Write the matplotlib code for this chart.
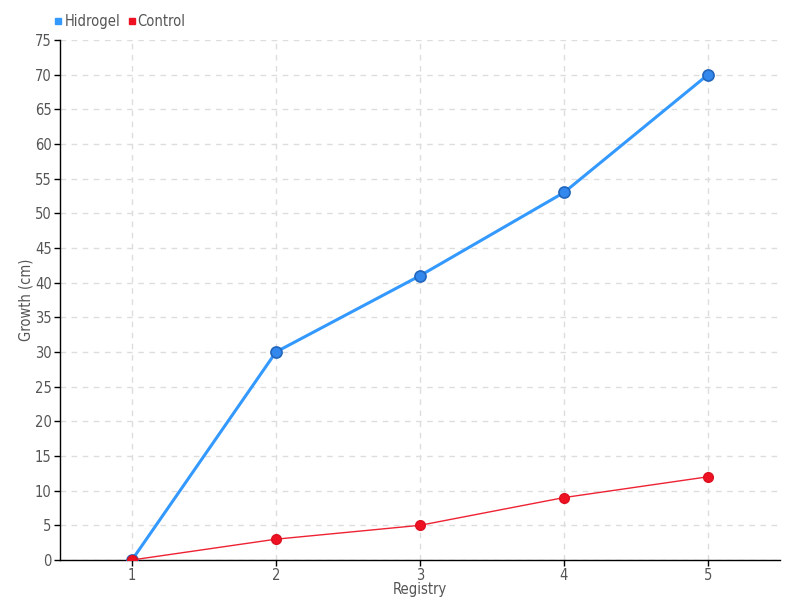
import matplotlib
matplotlib.use("Agg")
import matplotlib.pyplot as plt
from matplotlib.lines import Line2D

registry = [1, 2, 3, 4, 5]
hidrogel = [0, 30, 41, 53, 70]
control = [0, 3, 5, 9, 12]
yticks = list(range(0, 80, 5))

plt.rcParams['font.family'] = ['DejaVu Sans']
plt.rcParams['font.stretch'] = 'condensed'
fig = plt.figure(figsize=(8, 6), dpi=100)
ax = fig.add_axes([0.075, 0.0667, 0.9, 0.8667])

ax.plot(registry, hidrogel, color='#3399ff', lw=2.2, marker='o', ms=8,
        mfc='#3388ee', mec='#2266bb', mew=1.2, zorder=3)
ax.plot(registry, control, color='#ee2233', lw=1, marker='o', ms=7,
        mfc='#ee1122', mec='#dd1122', zorder=4)

ax.set_xlim(0.5, 5.5)
ax.set_ylim(0, 75)
ax.set_xticks(registry)
ax.set_yticks(yticks)
ax.grid(True, color='#dddddd', ls=(0, (4, 4)), lw=1)
ax.set_axisbelow(True)
for s in ['top', 'right']:
    ax.spines[s].set_visible(False)
for s in ['left', 'bottom']:
    ax.spines[s].set_color('black')
    ax.spines[s].set_linewidth(1)
ax.tick_params(colors='#555555', labelsize=10.5, length=4, width=1, pad=2)
ax.tick_params(axis='both', color='black')
ax.set_xlabel('Registry', color='#555555', fontsize=10.5, labelpad=-1)
ax.set_ylabel('Growth (cm)', color='#555555', fontsize=10.5, labelpad=1)

handles = [Line2D([], [], marker='s', ls='', color='#3399ff', ms=4.5),
           Line2D([], [], marker='s', ls='', color='#ee1122', ms=4.5)]
fig.legend(handles, ['Hidrogel', 'Control'], loc='upper left',
           bbox_to_anchor=(0.053, 0.998), ncol=2, frameon=False,
           handlelength=0.4, handletextpad=0.2, columnspacing=0.6,
           fontsize=10.5, labelcolor='#555555')

fig.savefig('out.png', dpi=100)
